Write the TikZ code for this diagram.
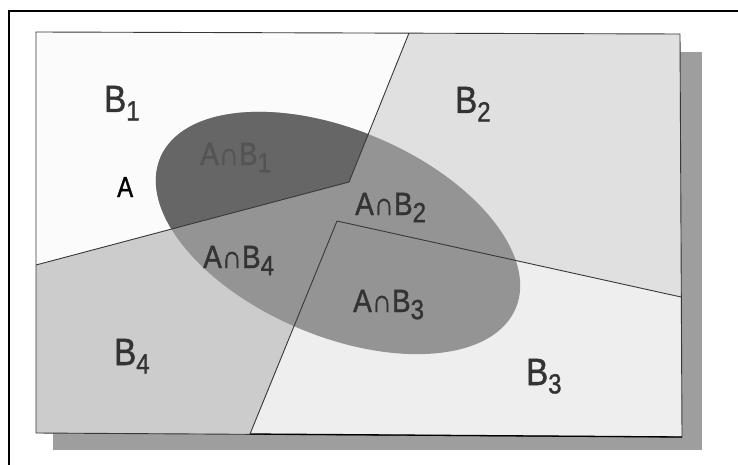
\documentclass[tikz,border=0pt]{standalone}
\usepackage{fontspec}
\setmainfont{Liberation Sans}
\newfontfamily\lblfont{Liberation Sans}[FakeBold=1.3]
\definecolor{shadowc}{gray}{0.62}
\definecolor{bone}{gray}{0.985}
\definecolor{btwo}{gray}{0.88}
\definecolor{bthree}{gray}{0.935}
\definecolor{bfour}{gray}{0.80}
\definecolor{aone}{gray}{0.40}
\definecolor{arest}{gray}{0.58}
\definecolor{linec}{gray}{0.22}
\definecolor{txt}{gray}{0.2}
\definecolor{txtdark}{gray}{0.33}
\newcommand\subs[1]{\raisebox{-0.22em}{\fontsize{24}{24}\selectfont #1}}
\tikzset{
  lbl/.style={anchor=base west, inner sep=0pt, text=txt, font=\lblfont\fontsize{33}{33}\selectfont},
  divider/.style={draw=linec, line width=0.9pt},
}
\begin{document}
\begin{tikzpicture}[x=1pt,y=-1pt]
\useasboundingbox (0,0) rectangle (738,465);
\fill[white] (0,0) rectangle (738,465);
% outer frame (top and left visible)
\draw[black, line width=2.5pt] (9,465) -- (9,11) -- (738,11);
% shadow
\fill[shadowc] (53,52) rectangle (702,450);
% corners and division points
\coordinate (TL) at (36,32);
\coordinate (TR) at (680,34);
\coordinate (BR) at (682,437);
\coordinate (BL) at (36,433);
\coordinate (T) at (409,33);
\coordinate (C1) at (349,182);
\coordinate (W) at (36,265);
\coordinate (C2) at (337,221);
\coordinate (E) at (681,297);
\coordinate (S) at (250,434);
% regions
\fill[bone] (TL) -- (T) -- (C1) -- (W) -- cycle;
\fill[btwo] (T) -- (TR) -- (E) -- (C2) -- (C1) -- cycle;
\fill[bthree] (C2) -- (E) -- (BR) -- (S) -- cycle;
\fill[bfour] (W) -- (C1) -- (C2) -- (S) -- (BL) -- cycle;
% ellipse A
\fill[arest, shift={(338,233)}, rotate=-23] (0,0) ellipse [x radius=193pt, y radius=103pt];
\begin{scope}
  \clip (TL) -- (T) -- (C1) -- (W) -- cycle;
  \fill[aone, shift={(338,233)}, rotate=-23] (0,0) ellipse [x radius=193pt, y radius=103pt];
\end{scope}
% dividing lines and border
\draw[divider] (TL) -- (TR) -- (BR) -- (BL) -- cycle;
\draw[black, line width=1.3pt] (S) -- (BR);
\draw[divider] (T) -- (C1) -- (W);
\draw[divider] (C2) -- (E);
\draw[divider] (C2) -- (S);
% labels
\node[lbl] (b1) at (104,112) {\scalebox{1}[1.15]{B\subs{1}}};
\node[lbl] (b2) at (455,113) {\scalebox{1}[1.15]{B\subs{2}}};
\node[lbl] (b3) at (526,385) {\scalebox{1}[1.15]{B\subs{3}}};
\node[lbl] (b4) at (114,365) {\scalebox{1}[1.15]{B\subs{4}}};
\node[lbl, text=black, font=\lblfont\fontsize{24}{24}\selectfont] (a) at (117,197) {\scalebox{1}[1.2]{A}};
\node[lbl, text=txtdark, font=\lblfont\fontsize{28}{28}\selectfont] (ab1) at (200,165) {\scalebox{1}[1.15]{A∩B\subs{1}}};
\node[lbl, font=\lblfont\fontsize{28}{28}\selectfont] (ab2) at (355,215) {\scalebox{1}[1.15]{A∩B\subs{2}}};
\node[lbl, font=\lblfont\fontsize{28}{28}\selectfont] (ab4) at (203,268) {\scalebox{1}[1.15]{A∩B\subs{4}}};
\node[lbl, font=\lblfont\fontsize{28}{28}\selectfont] (ab3) at (353,312) {\scalebox{1}[1.15]{A∩B\subs{3}}};
\end{tikzpicture}
\end{document}
